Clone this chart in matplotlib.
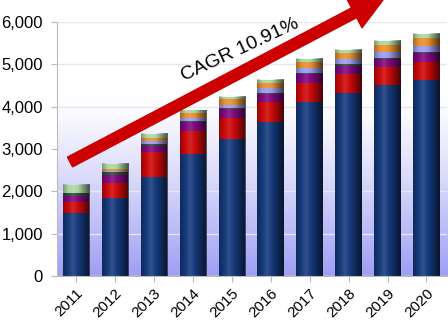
import numpy as np
import matplotlib
matplotlib.use("Agg")
import matplotlib.pyplot as plt
from matplotlib.patches import FancyArrow
from matplotlib.transforms import IdentityTransform
from matplotlib.ticker import FuncFormatter

years = ["2011", "2012", "2013", "2014", "2015", "2016", "2017", "2018", "2019", "2020"]
blue = [1490, 1840, 2340, 2880, 3240, 3640, 4110, 4330, 4520, 4630]
red = [260, 360, 590, 550, 495, 470, 450, 445, 420, 430]
purple = [140, 190, 140, 210, 215, 190, 215, 185, 190, 210]
dark = [70, 60, 50, 20, 20, 30, 25, 50, 30, 20]
lavender = [0, 20, 70, 75, 70, 110, 120, 120, 140, 150]
orange = [0, 60, 70, 115, 140, 120, 140, 140, 160, 190]
green = [190, 120, 100, 70, 50, 80, 70, 70, 100, 90]
yticks = [0, 1000, 2000, 3000, 4000, 5000, 6000]
cagr_label = "CAGR 10.91%"

series = [blue, red, purple, dark, lavender, orange, green]
colors = ["#163a7c", "#cc0a0a", "#800a80", "#2f4f3f", "#9a9af0", "#e8902c", "#a8d8a0"]

plt.rcParams['font.family'] = ['Liberation Sans', 'DejaVu Sans']
fig = plt.figure(figsize=(4.48, 3.24), dpi=100)
fig.patch.set_facecolor("#ffffff")
ax = fig.add_axes([0.127, 0.148, 0.871, 0.784])

x = np.arange(len(years))
width = 0.68

# background gradient of plot area (white top -> lavender bottom)
grad = np.linspace(0, 1, 256)[:, None]
top_c = np.array([1.0, 1.0, 1.0])
bot_c = np.array([0.62, 0.62, 0.96])
t = np.clip((grad - 0.3) / 0.7, 0, 1) ** 1.2
img = top_c * (1 - t[..., None]) + bot_c * t[..., None]
img = img[:, 0, :][:, None, :].repeat(2, axis=1)
ax.imshow(img, extent=[0, 1, 0, 1], transform=ax.transAxes, aspect='auto', zorder=0)

ax.set_yticks(yticks)
ax.yaxis.set_major_formatter(FuncFormatter(lambda v, p: f"{int(v):,}"))
ax.grid(axis='y', color='#e8e8f2', linewidth=1.0, zorder=0.5)
ax.set_axisbelow(True)

# cylindrical shading profile
xs = np.linspace(-1, 1, 64)
shade = np.zeros((1, 64, 4))
dark_a = np.clip(np.abs(xs + 0.25) - 0.35, 0, 1) * 0.7
light_a = np.clip(0.35 - np.abs(xs + 0.25), 0, 1) * 0.35
shade[0, :, :3] = np.where(light_a[:, None] > 0, 1.0, 0.0)
shade[0, :, 3] = dark_a + light_a

bottom = np.zeros(len(years))
for vals, c in zip(series, colors):
    v = np.array(vals, dtype=float)
    ax.bar(x, v, width, bottom=bottom, color=c, edgecolor='none', zorder=2)
    bottom += v

for i in range(len(years)):
    ax.imshow(shade, extent=[x[i] - width / 2, x[i] + width / 2, 0, bottom[i]],
              aspect='auto', zorder=3, interpolation='bilinear')
ax.set_xlim(-0.49, len(years) - 0.47)
ax.set_ylim(0, 6000)

ax.set_xticks(x)
ax.set_xticklabels(years, rotation=45, ha='right', rotation_mode='anchor', fontsize=11)
ax.tick_params(axis='y', labelsize=12, length=4, color='#bbbbbb', pad=6)
ax.tick_params(axis='x', length=4, color='#bbbbbb', pad=3)
for s in ['top', 'right']:
    ax.spines[s].set_visible(False)
ax.spines['left'].set_color('#bbbbbb')
ax.spines['bottom'].set_color('#bbbbbb')

# big red arrow (pixel coordinates)
x0, y0 = 70, 324 - 162
x1, y1 = 386, 324 + 4
arr = FancyArrow(x0, y0, x1 - x0, y1 - y0, width=11, head_width=34, head_length=36,
                 length_includes_head=True, transform=IdentityTransform(),
                 color='#cc0000', zorder=10, clip_on=False)
fig.patches.append(arr)
arr.set_figure(fig)

fig.text(240 / 448, 1 - 50 / 324, cagr_label, rotation=25, fontsize=14,
         ha='center', va='center', color='black', zorder=11)

fig.savefig("out.png", dpi=100)
